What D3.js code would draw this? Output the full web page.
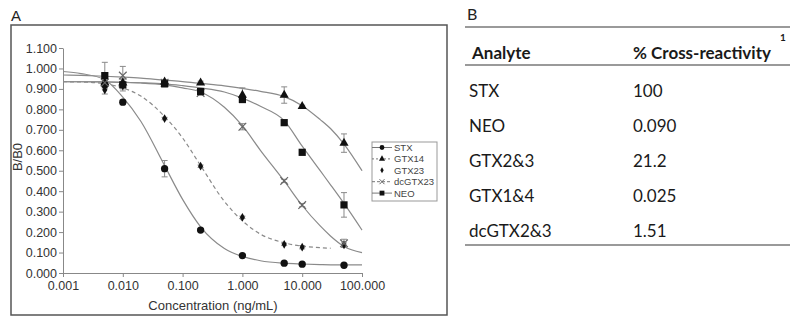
<!DOCTYPE html>
<html><head><meta charset="utf-8">
<script src="https://cdn.jsdelivr.net/npm/d3@7"></script>
<style>body{margin:0;background:#fff}svg{display:block}</style>
</head><body>
<svg id="c" width="800" height="327"></svg>
<script>
// ---- data ----
const concentrations = [0.005, 0.01, 0.05, 0.2, 1, 5, 10, 50];
const seriesNames = ["STX", "GTX14", "GTX23", "dcGTX23", "NEO"];
const stxValues     = [0.920, 0.835, 0.510, 0.210, 0.085, 0.048, 0.043, 0.038];
const stxErr        = [0.015, 0.012, 0.040, 0.008, 0.006, 0.005, 0.005, 0.004];
const gtx14Values   = [0.930, 0.930, 0.935, 0.930, 0.870, 0.870, 0.815, 0.635];
const gtx14Err      = [0.015, 0.015, 0.010, 0.008, 0.035, 0.040, 0.005, 0.045];
const gtx23Values   = [0.895, 0.915, 0.755, 0.522, 0.272, 0.140, 0.126, 0.137];
const gtx23Err      = [0.020, 0.015, 0.006, 0.006, 0.006, 0.006, 0.008, 0.010];
const dcgtx23Values = [0.930, 0.965, 0.930, 0.880, 0.715, 0.450, 0.332, 0.145];
const dcgtx23Err    = [0.020, 0.045, 0.015, 0.010, 0.015, 0.008, 0.008, 0.020];
const neoValues     = [0.965, 0.920, 0.925, 0.887, 0.848, 0.735, 0.590, 0.333];
const neoErr        = [0.065, 0.030, 0.015, 0.015, 0.010, 0.005, 0.005, 0.060];
// fitted curves, values at these concentrations
const curveConc   = [0.001, 0.002, 0.005, 0.01, 0.02, 0.05, 0.1, 0.2, 0.5, 1, 2, 5, 10, 20, 30, 50, 100];
const stxCurve     = [0.985, 0.975, 0.945, 0.860, 0.742, 0.525, 0.360, 0.226, 0.120, 0.081, 0.060, 0.048, 0.044, 0.041, 0.040, 0.040, 0.040];
const gtx14Curve   = [0.968, 0.966, 0.962, 0.958, 0.953, 0.943, 0.936, 0.927, 0.915, 0.903, 0.888, 0.862, 0.818, 0.750, 0.705, 0.630, 0.500];
const gtx23Curve   = [0.935, 0.934, 0.925, 0.905, 0.865, 0.765, 0.660, 0.525, 0.350, 0.255, 0.190, 0.148, 0.131, 0.124, 0.121, null, null];
const dcgtx23Curve = [0.935, 0.935, 0.934, 0.932, 0.929, 0.920, 0.905, 0.885, 0.810, 0.720, 0.600, 0.450, 0.330, 0.230, 0.180, 0.130, 0.100];
const neoCurve     = [0.935, 0.935, 0.934, 0.932, 0.930, 0.925, 0.916, 0.905, 0.885, 0.855, 0.815, 0.745, 0.620, 0.500, 0.430, 0.340, 0.210];
const yTicks = [0, 0.1, 0.2, 0.3, 0.4, 0.5, 0.6, 0.7, 0.8, 0.9, 1.0, 1.1];
const xTicks = [0.001, 0.01, 0.1, 1, 10, 100];
const tableHeader = ["Analyte", "% Cross-reactivity"];
const tableAnalytes = ["STX", "NEO", "GTX2&3", "GTX1&4", "dcGTX2&3"];
const tableValues = ["100", "0.090", "21.2", "0.025", "1.51"];

// ---- build ----
const svg = d3.select("#c");
const AR = "'Liberation Sans', Arial, sans-serif";
const x = d3.scaleLog().domain([0.001, 100]).range([63, 362]);
const y = d3.scaleLinear().domain([0, 1.1]).range([273, 48]);

const series = [
  {name: "STX", vals: stxValues, err: stxErr, curve: stxCurve, sym: d3.symbolCircle, size: 42, dash: null, legDash: null},
  {name: "GTX14", vals: gtx14Values, err: gtx14Err, curve: gtx14Curve, sym: d3.symbolTriangle, size: 36, dash: null, legDash: "2,2"},
  {name: "GTX23", vals: gtx23Values, err: gtx23Err, curve: gtx23Curve, sym: d3.symbolDiamond, size: 22, dash: "4,3", legDash: "none"},
  {name: "dcGTX23", vals: dcgtx23Values, err: dcgtx23Err, curve: dcgtx23Curve, sym: (d3.symbolTimes || d3.symbolX), size: 40, dash: null, legDash: "3,2", stroke: true},
  {name: "NEO", vals: neoValues, err: neoErr, curve: neoCurve, sym: d3.symbolSquare, size: 52, dash: null, legDash: null}
];

// panel A frame
svg.append("rect").attr("x", 11).attr("y", 25).attr("width", 436).attr("height", 290)
  .attr("fill", "none").attr("stroke", "#555").attr("stroke-width", 1.5);
svg.append("text").attr("x", 11).attr("y", 21).attr("font-family", AR).attr("font-size", 15)
  .attr("fill", "#222").text("A");

// axes
const gy = svg.append("g").attr("transform", "translate(63,0)")
  .call(d3.axisLeft(y).tickValues(yTicks).tickFormat(d3.format(".3f")).tickSize(4).tickSizeOuter(0).tickPadding(2));
const gx = svg.append("g").attr("transform", "translate(0,273)")
  .call(d3.axisBottom(x).tickValues(xTicks).tickFormat(d3.format(".3f")).tickSize(4).tickSizeOuter(0).tickPadding(4));
[gx, gy].forEach(g => {
  g.select(".domain").attr("stroke", "#888");
  g.selectAll(".tick line").attr("stroke", "#888");
  g.selectAll(".tick text").attr("font-family", AR).attr("font-size", 12.5).attr("fill", "#333");
});
svg.append("text").attr("x", 213).attr("y", 310).attr("text-anchor", "middle")
  .attr("font-family", AR).attr("font-size", 13).attr("fill", "#333").text("Concentration (ng/mL)");
svg.append("text").attr("transform", "translate(22,157) rotate(-90)").attr("text-anchor", "middle")
  .attr("font-family", AR).attr("font-size", 13).attr("fill", "#333").text("B/B0");

// curves
const line = d3.line().defined(d => d[1] != null)
  .x(d => x(d[0])).y(d => y(d[1])).curve(d3.curveMonotoneX);
series.forEach(s => {
  svg.append("path").datum(curveConc.map((c, i) => [c, s.curve[i]]))
    .attr("d", line).attr("fill", "none").attr("stroke", "#8a8a8a").attr("stroke-width", 1.2)
    .attr("stroke-dasharray", s.dash);
});

// error bars
series.forEach(s => {
  const g = svg.append("g").attr("stroke", "#8a8a8a").attr("stroke-width", 1);
  concentrations.forEach((c, i) => {
    const cx = x(c), y1 = y(s.vals[i] + s.err[i]), y2 = y(s.vals[i] - s.err[i]);
    g.append("line").attr("x1", cx).attr("x2", cx).attr("y1", y1).attr("y2", y2);
    g.append("line").attr("x1", cx - 3).attr("x2", cx + 3).attr("y1", y1).attr("y2", y1);
    g.append("line").attr("x1", cx - 3).attr("x2", cx + 3).attr("y1", y2).attr("y2", y2);
  });
});

// markers
series.forEach(s => {
  const p = d3.symbol().type(s.sym).size(s.size)();
  concentrations.forEach((c, i) => {
    const m = svg.append("path").attr("d", p).attr("transform", `translate(${x(c)},${y(s.vals[i])})`);
    if (s.stroke) m.attr("fill", "none").attr("stroke", "#666").attr("stroke-width", 1.2);
    else m.attr("fill", "#111");
  });
});

// legend
const lg = svg.append("g");
lg.append("rect").attr("x", 372).attr("y", 142).attr("width", 65).attr("height", 59)
  .attr("fill", "#fff").attr("stroke", "#999").attr("stroke-width", 1);
series.forEach((s, i) => {
  const ly = 147.5 + i * 11.4;
  if (s.legDash !== "none")
    lg.append("line").attr("x1", 372).attr("x2", 392).attr("y1", ly).attr("y2", ly)
      .attr("stroke", "#777").attr("stroke-width", 1).attr("stroke-dasharray", s.legDash);
  const m = lg.append("path").attr("d", d3.symbol().type(s.sym).size(s.size * 0.45)())
    .attr("transform", `translate(382,${ly})`);
  if (s.stroke) m.attr("fill", "none").attr("stroke", "#666").attr("stroke-width", 1);
  else m.attr("fill", "#111");
  lg.append("text").attr("x", 394).attr("y", ly + 3.4).attr("font-family", AR).attr("font-size", 9.5)
    .attr("fill", "#444").text(s.name);
});

// panel B table
const LT = "Lato, 'Open Sans', sans-serif";
svg.append("text").attr("x", 467).attr("y", 20).attr("font-family", LT).attr("font-size", 16)
  .attr("fill", "#222").text("B");
const rule = yy => svg.append("line").attr("x1", 465).attr("x2", 790).attr("y1", yy).attr("y2", yy)
  .attr("stroke", "#9a9a9a").attr("stroke-width", 2);
rule(27); rule(65); rule(245);
const colX = [472, 633];
tableHeader.forEach((h, i) => {
  svg.append("text").attr("x", colX[i]).attr("y", 59).attr("font-family", LT).attr("font-size", 17)
    .attr("font-weight", "bold").attr("fill", "#1a1a1a").text(h);
});
svg.append("text").attr("x", 783).attr("y", 41).attr("text-anchor", "middle").attr("font-family", LT)
  .attr("font-size", 10).attr("font-weight", "bold").attr("fill", "#1a1a1a").text("1");
tableAnalytes.forEach((a, i) => {
  const by = 97 + i * 35;
  svg.append("text").attr("x", colX[0] - 3).attr("y", by).attr("font-family", LT).attr("font-size", 17)
    .attr("fill", "#1a1a1a").text(a);
  svg.append("text").attr("x", colX[1]).attr("y", by).attr("font-family", LT).attr("font-size", 17)
    .attr("fill", "#1a1a1a").text(tableValues[i]);
});
</script>
</body></html>
